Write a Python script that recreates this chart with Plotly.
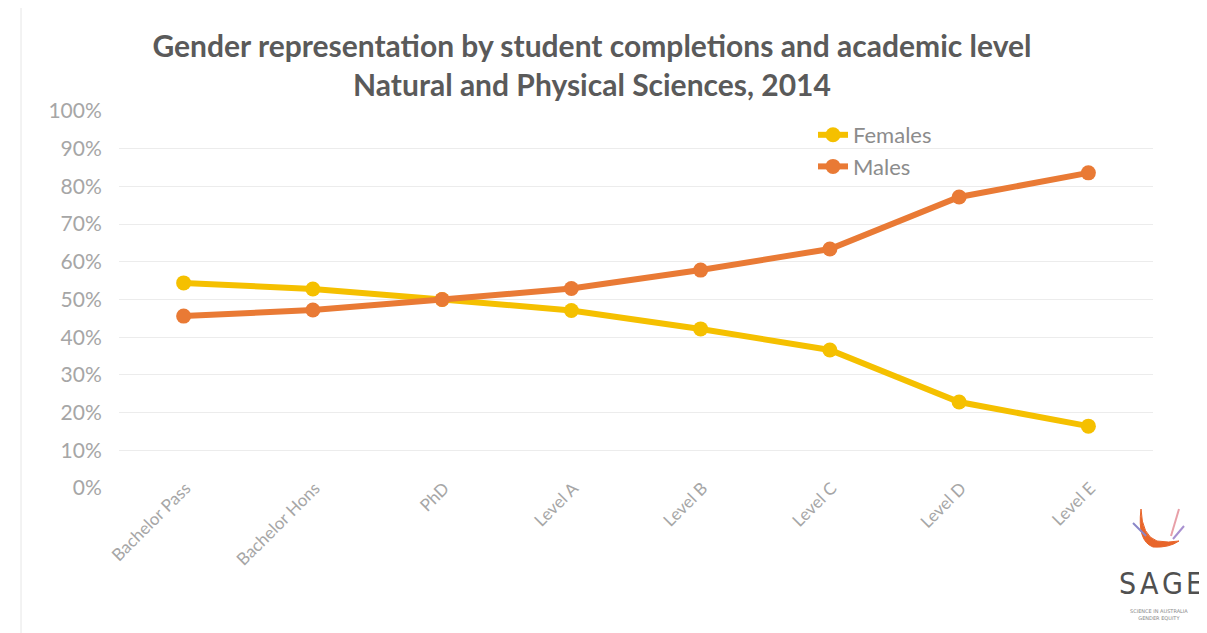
import plotly.graph_objects as go

categories = ["Bachelor Pass", "Bachelor Hons", "PhD", "Level A", "Level B", "Level C", "Level D", "Level E"]
females = [54.4, 52.8, 50.0, 47.1, 42.2, 36.6, 22.8, 16.4]
males = [45.6, 47.2, 50.0, 52.9, 57.8, 63.4, 77.2, 83.6]
y_ticks = [0, 10, 20, 30, 40, 50, 60, 70, 80, 90, 100]
y_tick_labels = [f"{v}%" for v in y_ticks]

W, H = 1207, 633
OFF = 7  # page offset of the figure inside the browser window
L, R, T, B = 111, 62, 103, 153
PW, PH = W - L - R, H - T - B


def px(x):
    """screen x -> paper x"""
    return (x - OFF - L) / PW


def py(y):
    """screen y -> paper y"""
    return (H - B - (y - OFF)) / PH


fig = go.Figure()
fig.add_trace(go.Scatter(x=categories, y=females, name="Females", mode="lines+markers",
                         line=dict(color="#F5C000", width=6),
                         marker=dict(color="#F5C000", size=15)))
fig.add_trace(go.Scatter(x=categories, y=males, name="Males", mode="lines+markers",
                         line=dict(color="#E97A35", width=6),
                         marker=dict(color="#E97A35", size=15)))

fig.update_layout(
    template="none",
    width=W, height=H,
    margin=dict(l=L, r=R, t=T, b=B, autoexpand=False),
    paper_bgcolor="white", plot_bgcolor="white",
    title=dict(text="Gender representation by student completions and academic level<br>Natural and Physical Sciences, 2014",
               x=(591 - OFF) / W, xanchor="center", y=1 - 49 / H, yanchor="top",
               font=dict(family="Lato", size=30, color="#5a5a5a", weight="bold")),
    legend=dict(x=px(812), y=py(113), xanchor="left", yanchor="top", bgcolor="rgba(0,0,0,0)",
                font=dict(family="Lato", size=22, color="#8c8c8c"), itemwidth=30),
    showlegend=True,
)
fig.update_xaxes(type="category", range=[-0.5, 7.5], showgrid=False, showline=False, zeroline=False,
                 automargin=False, tickangle=-45, ticklabelstandoff=-14, ticklabelshift=2,
                 tickfont=dict(family="Lato", size=17, color="#a6a6a6"), ticks="")
fig.update_yaxes(range=[0, 100], tickvals=y_ticks, ticktext=y_tick_labels, automargin=False,
                 showgrid=True, gridcolor="#ececec", gridwidth=1, zeroline=False, showline=False,
                 tickfont=dict(family="Lato", size=21, color="#a6a6a6"),
                 ticks="outside", ticklen=12, tickcolor="white")

# faint screenshot frame
fig.add_shape(type="line", xref="paper", yref="paper", x0=px(20), x1=px(20), y0=py(640), y1=py(0),
              line=dict(color="#e6e6e6", width=1))

# SAGE logo approximation
for letter, cx in zip("SAGE", [1126, 1148, 1171, 1193]):
    fig.add_annotation(xref="paper", yref="paper", x=px(cx), y=py(582), xanchor="center", yanchor="middle",
                       text=letter, showarrow=False,
                       font=dict(family="DejaVu Sans Condensed", size=30, color="#505050"))
fig.add_annotation(xref="paper", yref="paper", x=px(1158), y=py(613), xanchor="center", yanchor="middle",
                   text="SCIENCE IN AUSTRALIA<br>GENDER EQUITY", showarrow=False,
                   font=dict(family="DejaVu Sans", size=5, color="#888888"))
fig.add_shape(type="path", xref="paper", yref="paper",
              path=(f"M {px(1140)} {py(508)} Q {px(1141)} {py(535)} {px(1156)} {py(540)} "
                    f"Q {px(1168)} {py(542)} {px(1178)} {py(540)} "
                    f"Q {px(1168)} {py(547)} {px(1152)} {py(546)} "
                    f"Q {px(1136)} {py(540)} {px(1140)} {py(508)} Z"),
              fillcolor="#E8652A", line=dict(color="#E8652A", width=1))
fig.add_shape(type="line", xref="paper", yref="paper", x0=px(1132), y0=py(522), x1=px(1145), y1=py(535),
              line=dict(color="#8a86c8", width=2))
fig.add_shape(type="line", xref="paper", yref="paper", x0=px(1178), y0=py(508), x1=px(1170), y1=py(535),
              line=dict(color="#e8a0a8", width=2))
fig.add_shape(type="line", xref="paper", yref="paper", x0=px(1183), y0=py(525), x1=px(1172), y1=py(538),
              line=dict(color="#a890d0", width=2))

fig.write_html("out.html")
